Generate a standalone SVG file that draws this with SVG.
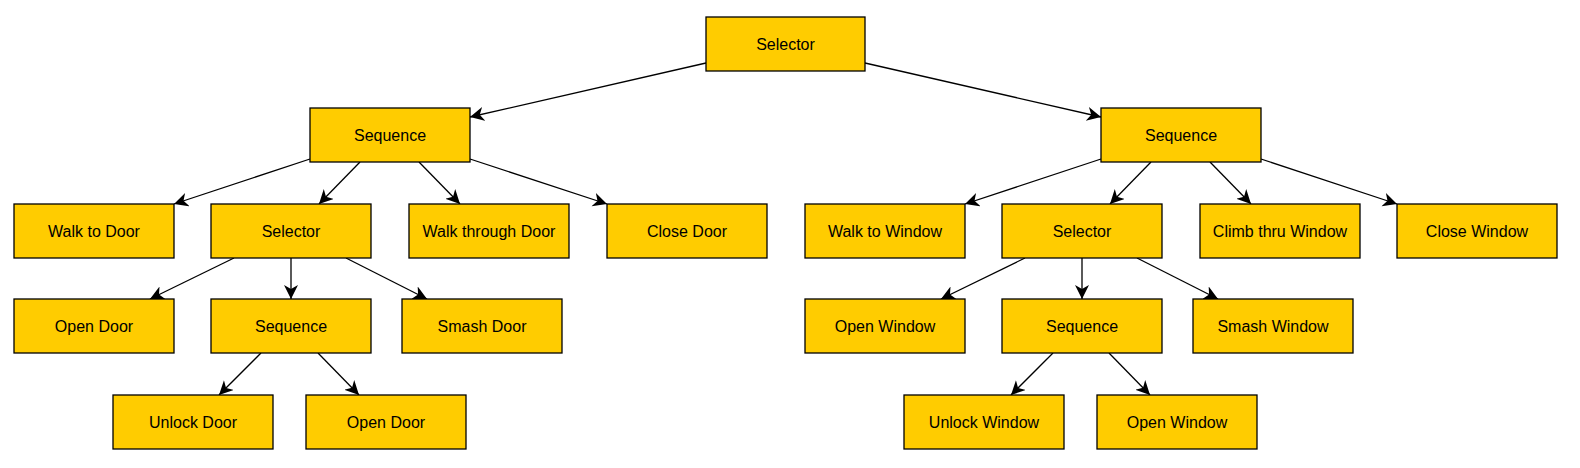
<svg xmlns="http://www.w3.org/2000/svg" width="1580" height="468" viewBox="0 0 1580 468">
<style>
.n rect{fill:#FFCC00;stroke:#000;stroke-width:1.3}
.n text{font-family:"Liberation Sans",Arial,sans-serif;font-size:16px;text-anchor:middle;dominant-baseline:central;fill:#000}
.e line{stroke:#000;stroke-width:1.3;marker-end:url(#a)}
</style>
<defs><marker id="a" markerWidth="16" markerHeight="16" refX="14" refY="7" orient="auto" markerUnits="userSpaceOnUse"><path d="M0,0 L14,7 L0,14 L4,7 Z" fill="#000"/></marker></defs>
<rect width="1580" height="468" fill="#fff"/>
<g class="e">
<line x1="706" y1="63" x2="470" y2="117"/><line x1="865" y1="63" x2="1101" y2="117"/>
<line x1="310" y1="159" x2="174" y2="204"/><line x1="360" y1="162" x2="319" y2="204"/><line x1="419" y1="162" x2="460" y2="204"/><line x1="470" y1="159" x2="607" y2="204"/>
<line x1="234" y1="258" x2="150" y2="299"/><line x1="291" y1="258" x2="291" y2="299"/><line x1="346" y1="258" x2="427" y2="299"/>
<line x1="261" y1="353" x2="219" y2="395"/><line x1="318" y1="353" x2="359" y2="395"/>
<line x1="1101" y1="159" x2="965" y2="204"/><line x1="1151" y1="162" x2="1110" y2="204"/><line x1="1210" y1="162" x2="1251" y2="204"/><line x1="1261" y1="159" x2="1397" y2="204"/>
<line x1="1025" y1="258" x2="941" y2="299"/><line x1="1082" y1="258" x2="1082" y2="299"/><line x1="1137" y1="258" x2="1218" y2="299"/>
<line x1="1053" y1="353" x2="1011" y2="395"/><line x1="1109" y1="353" x2="1150" y2="395"/>
</g>
<g id="root" class="n"><rect x="706" y="17" width="159" height="54"/><text x="785.5" y="44">Selector</text></g>
<g id="seqL" class="n"><rect x="310" y="108" width="160" height="54"/><text x="390" y="135">Sequence</text></g>
<g id="seqR" class="n"><rect x="1101" y="108" width="160" height="54"/><text x="1181" y="135">Sequence</text></g>
<g id="walkDoor" class="n"><rect x="14" y="204" width="160" height="54"/><text x="94" y="231">Walk to Door</text></g>
<g id="selL" class="n"><rect x="211" y="204" width="160" height="54"/><text x="291" y="231">Selector</text></g>
<g id="walkThru" class="n"><rect x="409" y="204" width="160" height="54"/><text x="489" y="231">Walk through Door</text></g>
<g id="closeDoor" class="n"><rect x="607" y="204" width="160" height="54"/><text x="687" y="231">Close Door</text></g>
<g id="walkWin" class="n"><rect x="805" y="204" width="160" height="54"/><text x="885" y="231">Walk to Window</text></g>
<g id="selR" class="n"><rect x="1002" y="204" width="160" height="54"/><text x="1082" y="231">Selector</text></g>
<g id="climb" class="n"><rect x="1200" y="204" width="160" height="54"/><text x="1280" y="231">Climb thru Window</text></g>
<g id="closeWin" class="n"><rect x="1397" y="204" width="160" height="54"/><text x="1477" y="231">Close Window</text></g>
<g id="openDoor1" class="n"><rect x="14" y="299" width="160" height="54"/><text x="94" y="326">Open Door</text></g>
<g id="seqL2" class="n"><rect x="211" y="299" width="160" height="54"/><text x="291" y="326">Sequence</text></g>
<g id="smashDoor" class="n"><rect x="402" y="299" width="160" height="54"/><text x="482" y="326">Smash Door</text></g>
<g id="openWin1" class="n"><rect x="805" y="299" width="160" height="54"/><text x="885" y="326">Open Window</text></g>
<g id="seqR2" class="n"><rect x="1002" y="299" width="160" height="54"/><text x="1082" y="326">Sequence</text></g>
<g id="smashWin" class="n"><rect x="1193" y="299" width="160" height="54"/><text x="1273" y="326">Smash Window</text></g>
<g id="unlockDoor" class="n"><rect x="113" y="395" width="160" height="54"/><text x="193" y="422">Unlock Door</text></g>
<g id="openDoor2" class="n"><rect x="306" y="395" width="160" height="54"/><text x="386" y="422">Open Door</text></g>
<g id="unlockWin" class="n"><rect x="904" y="395" width="160" height="54"/><text x="984" y="422">Unlock Window</text></g>
<g id="openWin2" class="n"><rect x="1097" y="395" width="160" height="54"/><text x="1177" y="422">Open Window</text></g>
</svg>
